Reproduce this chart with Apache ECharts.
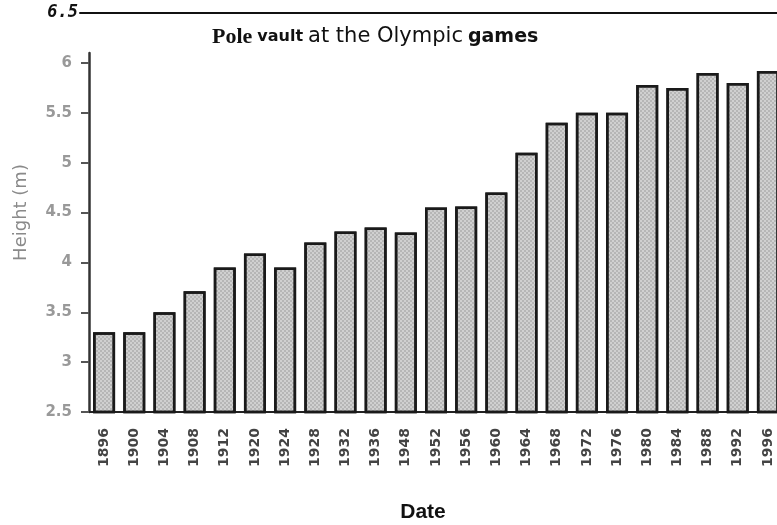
<!DOCTYPE html>
<html>
<head>
<meta charset="utf-8">
<script src="https://cdn.jsdelivr.net/npm/echarts@6/dist/echarts.min.js"></script>
<style>
  html, body { margin: 0; padding: 0; background: #fff; }
  #main { width: 777px; height: 525px; }
</style>
</head>
<body>
<div id="main"></div>
<script>
// 数据
var years = ["1896", "1900", "1904", "1908", "1912", "1920", "1924", "1928", "1932", "1936", "1948", "1952",
  "1956", "1960", "1964", "1968", "1972", "1976", "1980", "1984", "1988", "1992", "1996"];
var heights = [3.30, 3.30, 3.50, 3.71, 3.95, 4.09, 3.95, 4.20, 4.31, 4.35, 4.30, 4.55,
  4.56, 4.70, 5.10, 5.40, 5.50, 5.50, 5.78, 5.75, 5.90, 5.80, 5.92];
var yTicks = [2.5, 3, 3.5, 4, 4.5, 5, 5.5, 6];
var topTick = [6.5];

var chart = echarts.init(document.getElementById("main"));

var option = {
  animation: false,
  title: {
    text: "{a|Pole} {b|vault} {c|at the Olympic} {d|games}",
    left: 207,
    top: 21,
    textStyle: {
      rich: {
        a: { fontFamily: "Liberation Serif", fontWeight: "bold", fontSize: 22, color: "#111" },
        b: { fontFamily: "DejaVu Sans", fontWeight: "bold", fontSize: 16, color: "#111" },
        c: { fontFamily: "DejaVu Sans", fontWeight: "normal", fontSize: 21, color: "#111" },
        d: { fontFamily: "DejaVu Sans", fontWeight: "bold", fontSize: 19, color: "#111" }
      }
    }
  },
  grid: [
    // 顶部 6.5 线
    { left: 80, right: 0, top: 13, bottom: 113, outerBoundsMode: "none" },
    // 柱状图区域
    { left: 89, right: -6, top: 53, bottom: 113, outerBoundsMode: "none" }
  ],
  xAxis: [
    {
      gridIndex: 0,
      type: "category",
      position: "top",
      data: years,
      axisLine: { lineStyle: { color: "#111", width: 2 } },
      axisTick: { show: false },
      axisLabel: { show: false }
    },
    {
      gridIndex: 1,
      type: "category",
      data: years,
      name: "Date",
      nameLocation: "middle",
      nameGap: 90,
      nameTextStyle: {
        fontFamily: "Liberation Sans",
        fontWeight: "bold",
        fontSize: 21,
        color: "#111",
        padding: [0, 26, 0, 0]
      },
      axisLine: { lineStyle: { color: "#222", width: 2 } },
      axisTick: { alignWithLabel: true, length: 9, lineStyle: { color: "#222", width: 2 } },
      axisLabel: {
        rotate: 90,
        interval: 0,
        margin: 16,
        fontFamily: "DejaVu Sans",
        fontWeight: "bold",
        fontSize: 14,
        color: "#444"
      }
    }
  ],
  yAxis: [
    {
      gridIndex: 0,
      type: "value",
      min: 2.5,
      max: 6.5,
      name: "Height (m)",
      nameLocation: "middle",
      nameGap: 50,
      nameTextStyle: { fontFamily: "DejaVu Sans", fontSize: 18, color: "#8a8a8a" },
      splitLine: { show: false },
      axisLine: { show: false },
      axisTick: { show: false },
      axisLabel: {
        customValues: topTick,
        margin: 2,
        fontFamily: "DejaVu Sans Mono",
        fontStyle: "italic",
        fontWeight: "bold",
        fontSize: 17,
        color: "#111"
      }
    },
    {
      gridIndex: 1,
      type: "value",
      min: 2.5,
      max: 6.1,
      splitLine: { show: false },
      axisLine: { show: true, lineStyle: { color: "#333", width: 2.5 } },
      axisTick: { show: true, customValues: yTicks, length: 8, lineStyle: { color: "#555", width: 2 } },
      axisLabel: {
        customValues: yTicks,
        margin: 17,
        fontFamily: "DejaVu Sans",
        fontWeight: "bold",
        fontSize: 15,
        color: "#999"
      }
    }
  ],
  series: [
    {
      type: "bar",
      xAxisIndex: 1,
      yAxisIndex: 1,
      data: heights,
      barWidth: 22,
      itemStyle: {
        color: "#d0d0d0",
        borderColor: "#1a1a1a",
        borderWidth: 2.5,
        decal: {
          symbol: "circle",
          symbolSize: 0.7,
          dashArrayX: [[2, 2], [0, 2, 2, 0]],
          dashArrayY: [2, 0],
          color: "rgba(0,0,0,0.35)"
        }
      }
    }
  ]
};

chart.setOption(option);
</script>
</body>
</html>
